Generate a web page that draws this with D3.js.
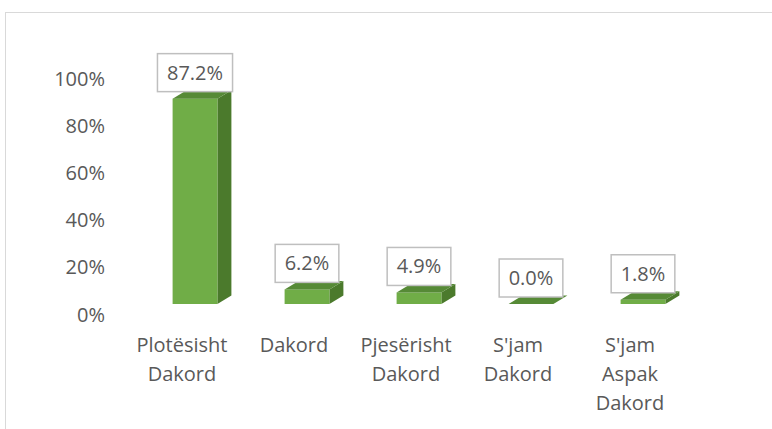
<!DOCTYPE html>
<html><head><meta charset="utf-8">
<script src="https://cdn.jsdelivr.net/npm/d3@7"></script>
<style>body{margin:0;background:#fff;overflow:hidden}</style></head>
<body>
<svg id="c" width="772" height="429"></svg>
<script>
const categories = ["Plotësisht Dakord", "Dakord", "Pjesërisht Dakord", "S'jam Dakord", "S'jam Aspak Dakord"];
const values = [0.872, 0.062, 0.049, 0.000, 0.018];
const valueLabels = ["87.2%", "6.2%", "4.9%", "0.0%", "1.8%"];
const yTicks = [0, 0.2, 0.4, 0.6, 0.8, 1.0];

const svg = d3.select("#c");
const font = "'Open Sans', sans-serif";
const textCol = "#595959";

// frame
svg.append("rect").attr("x", 5.5).attr("y", 12.5).attr("width", 800).attr("height", 500)
  .attr("fill", "none").attr("stroke", "#d9d9d9").attr("stroke-width", 1);

const y = d3.scaleLinear().domain([0, 1]).range([314, 78.5]);
const x = d3.scaleBand().domain(categories).range([139, 699]);
const floorShift = 10;        // front of bars sits below the back wall
const dx = 14, dy = -8.5;     // depth offset
const barW = x.bandwidth() * 0.4;

// y axis labels
const yAxis = d3.axisLeft(y).tickValues(yTicks).tickFormat(d3.format(".0%")).tickSize(0).tickPadding(0);
const ga = svg.append("g").attr("transform", "translate(105,0)").call(yAxis);
ga.select(".domain").remove();
ga.selectAll("text").attr("font-family", font).attr("font-size", 20).attr("fill", textCol).attr("dy", "0.35em");

// bars
const g = svg.append("g");
categories.forEach((c, i) => {
  const cx = x(c) + x.bandwidth() / 2;
  const x0 = cx - barW / 2, x1 = cx + barW / 2;
  const yb = y(0) - floorShift, yt = y(values[i]) - floorShift;
  // side
  g.append("polygon").attr("points", [[x1, yt], [x1 + dx, yt + dy], [x1 + dx, yb + dy], [x1, yb]].join(" "))
    .attr("fill", "#4b7a2c");
  // front
  if (yb - yt > 0)
    g.append("rect").attr("x", x0).attr("y", yt).attr("width", barW).attr("height", yb - yt).attr("fill", "#70ad47");
  // top
  g.append("polygon").attr("points", [[x0, yt], [x0 + dx, yt + dy], [x1 + dx, yt + dy], [x1, yt]].join(" "))
    .attr("fill", "#568a36");
});

// value labels
const lg = svg.append("g");
categories.forEach((c, i) => {
  const cx = x(c) + x.bandwidth() / 2;
  const yt = y(values[i]) - floorShift;
  const t = lg.append("text").attr("x", cx).attr("text-anchor", "middle")
    .attr("font-family", font).attr("font-size", 20).attr("fill", textCol).text(valueLabels[i]);
  const w = t.node().getComputedTextLength() + 19;
  const h = 38;
  const bBottom = yt - 7;
  lg.insert("rect", "text").attr("x", cx - w / 2).attr("y", bBottom - h).attr("width", w).attr("height", h)
    .attr("fill", "#fff").attr("stroke", "#bfbfbf").attr("stroke-width", 1.5);
  t.attr("y", bBottom - h / 2).attr("dy", "0.35em");
});

// category labels
const cg = svg.append("g");
categories.forEach((c, i) => {
  const cx = x(c) + x.bandwidth() / 2 - 13;
  const t = cg.append("text").attr("text-anchor", "middle").attr("font-family", font)
    .attr("font-size", 20).attr("fill", textCol);
  c.split(" ").forEach((w, j) => {
    t.append("tspan").attr("x", cx).attr("y", 351.5 + j * 29).text(w);
  });
});
</script>
</body></html>
